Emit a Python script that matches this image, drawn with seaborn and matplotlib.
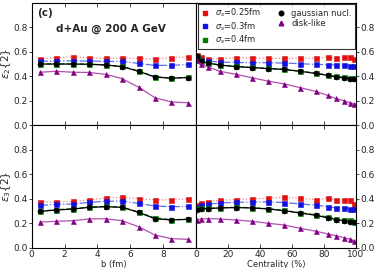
import numpy as np
import seaborn as sns
import matplotlib
matplotlib.use("Agg")
import matplotlib.pyplot as plt
from matplotlib.lines import Line2D

# impact parameter b (fm) and centrality (%) bins
b_vals = [0.5, 1.5, 2.5, 3.5, 4.5, 5.5, 6.5, 7.5, 8.5, 9.5]
cent_vals = [0.5, 3, 7.5, 15, 25, 35, 45, 55, 65, 75, 82.5, 87.5, 92.5, 96.5, 99]

# eps2{2} vs b
e2_b_s025 = [0.542, 0.55, 0.558, 0.55, 0.545, 0.548, 0.545, 0.54, 0.552, 0.558]
e2_b_s03 = [0.523, 0.523, 0.525, 0.523, 0.521, 0.52, 0.504, 0.488, 0.488, 0.496]
e2_b_s04 = [0.50, 0.50, 0.50, 0.498, 0.492, 0.479, 0.442, 0.395, 0.385, 0.39]
e2_b_gaus = [0.499, 0.499, 0.499, 0.497, 0.491, 0.478, 0.44, 0.393, 0.383, 0.389]
e2_b_disk = [0.432, 0.44, 0.432, 0.43, 0.415, 0.38, 0.31, 0.224, 0.189, 0.183]

# eps2{2} vs centrality
e2_c_s025 = [0.57, 0.556, 0.537, 0.542, 0.55, 0.55, 0.545, 0.545, 0.547, 0.547, 0.556, 0.547, 0.553, 0.556, 0.542]
e2_c_s03 = [0.55, 0.529, 0.523, 0.515, 0.512, 0.51, 0.51, 0.507, 0.502, 0.496, 0.494, 0.491, 0.491, 0.486, 0.486]
e2_c_s04 = [0.568, 0.522, 0.508, 0.491, 0.48, 0.472, 0.463, 0.456, 0.441, 0.425, 0.409, 0.398, 0.39, 0.388, 0.386]
e2_c_gaus = [0.565, 0.525, 0.507, 0.49, 0.478, 0.47, 0.462, 0.455, 0.44, 0.422, 0.406, 0.395, 0.386, 0.38, 0.377]
e2_c_disk = [0.53, 0.50, 0.475, 0.44, 0.415, 0.387, 0.36, 0.337, 0.307, 0.275, 0.243, 0.218, 0.2, 0.183, 0.172]

# eps3{2} vs b
e3_b_s025 = [0.375, 0.37, 0.378, 0.39, 0.405, 0.41, 0.40, 0.39, 0.39, 0.40]
e3_b_s03 = [0.345, 0.353, 0.356, 0.37, 0.378, 0.38, 0.361, 0.34, 0.334, 0.337]
e3_b_s04 = [0.298, 0.31, 0.317, 0.331, 0.336, 0.331, 0.29, 0.243, 0.228, 0.232]
e3_b_gaus = [0.296, 0.307, 0.315, 0.329, 0.334, 0.329, 0.288, 0.236, 0.226, 0.231]
e3_b_disk = [0.209, 0.215, 0.22, 0.234, 0.236, 0.22, 0.171, 0.103, 0.073, 0.068]

# eps3{2} vs centrality
e3_c_s025 = [0.35, 0.365, 0.376, 0.387, 0.392, 0.40, 0.403, 0.411, 0.403, 0.392, 0.403, 0.387, 0.387, 0.39, 0.36]
e3_c_s03 = [0.335, 0.349, 0.354, 0.365, 0.37, 0.373, 0.373, 0.368, 0.357, 0.346, 0.335, 0.324, 0.324, 0.319, 0.313]
e3_c_s04 = [0.32, 0.32, 0.321, 0.326, 0.329, 0.326, 0.318, 0.304, 0.285, 0.268, 0.25, 0.233, 0.224, 0.222, 0.212]
e3_c_gaus = [0.308, 0.316, 0.319, 0.324, 0.327, 0.324, 0.316, 0.302, 0.283, 0.264, 0.243, 0.229, 0.221, 0.213, 0.207]
e3_c_disk = [0.224, 0.234, 0.237, 0.234, 0.226, 0.215, 0.199, 0.185, 0.158, 0.134, 0.112, 0.098, 0.082, 0.068, 0.057]

labels = [r"$\sigma_s$=0.25fm", r"$\sigma_s$=0.3fm", r"$\sigma_s$=0.4fm",
          "gaussian nucl.", "disk-like"]
colors = ["#e01010", "#1010e0", "#007a00", "black", "#800080"]
line_colors = ["#f08080", "#6070f0", "#007a00", "black", "#b050b0"]
styles = [":", "-.", "--", "-", "-"]
markers = ["s", "s", "s", "o", "^"]

sns.set_style("ticks")
plt.rcParams["font.family"] = ["DejaVu Sans"]

fig = plt.figure(figsize=(3.74, 2.68), dpi=100)
L, W1, W2 = 0.0848, 0.4393, 0.427
B2, B1, H = 0.0760, 0.5330, 0.457
ax_tl = fig.add_axes([L, B1, W1, H])
ax_tr = fig.add_axes([L + W1, B1, W2, H])
ax_bl = fig.add_axes([L, B2, W1, H])
ax_br = fig.add_axes([L + W1, B2, W2, H])

panels = [
    (ax_tl, b_vals, [e2_b_s025, e2_b_s03, e2_b_s04, e2_b_gaus, e2_b_disk]),
    (ax_tr, cent_vals, [e2_c_s025, e2_c_s03, e2_c_s04, e2_c_gaus, e2_c_disk]),
    (ax_bl, b_vals, [e3_b_s025, e3_b_s03, e3_b_s04, e3_b_gaus, e3_b_disk]),
    (ax_br, cent_vals, [e3_c_s025, e3_c_s03, e3_c_s04, e3_c_gaus, e3_c_disk]),
]

for ax, xs, series in panels:
    for ys, c, lc, ls, m in zip(series, colors, line_colors, styles, markers):
        sns.lineplot(x=xs, y=ys, ax=ax, color=lc, linestyle=ls, linewidth=0.9,
                     marker=m, markersize=3.6, markerfacecolor=c,
                     markeredgecolor=c, markeredgewidth=0.4, legend=False)
    ax.set_ylim(0, 1.0)
    ax.set_yticks([0.0, 0.2, 0.4, 0.6, 0.8])
    ax.set_yticklabels(["0.0", "0.2", "0.4", "0.6", "0.8"])
    for sp in ax.spines.values():
        sp.set_visible(True)
        sp.set_color("black")
        sp.set_linewidth(0.8)
    ax.tick_params(axis="x", direction="in", top=True, length=3, width=0.6,
                   labelsize=6.5, pad=2)
    ax.tick_params(axis="y", direction="out", length=2, width=0.6,
                   labelsize=6.5, pad=1)

for ax in (ax_tl, ax_bl):
    ax.set_xlim(0, 10)
    ax.set_xticks([0, 2, 4, 6, 8])
for ax in (ax_tr, ax_br):
    ax.set_xlim(0, 100)
    ax.set_xticks([0, 20, 40, 60, 80, 100])
    ax.yaxis.tick_right()
    ax.tick_params(axis="y", direction="out", length=2, width=0.6,
                   labelsize=6.5, pad=1)
for ax in (ax_tl, ax_tr):
    ax.tick_params(axis="x", labelbottom=False)

ax_bl.set_xlabel("b (fm)", fontsize=6, labelpad=0.5)
ax_br.set_xlabel("Centrality (%)", fontsize=6, labelpad=0.5)
ax_tl.set_ylabel(r"$\epsilon_2\{2\}$", fontsize=7.5)
ax_bl.set_ylabel(r"$\epsilon_3\{2\}$", fontsize=7.5)
for ax in (ax_tl, ax_bl):
    ax.yaxis.set_label_coords(-0.115, 0.5)

ax_tl.text(0.03, 0.96, "(c)", transform=ax_tl.transAxes, fontsize=7.5,
           fontweight="bold", va="top", ha="left")
ax_tl.text(0.15, 0.83, "d+Au @ 200 A GeV", transform=ax_tl.transAxes,
           fontsize=7.5, fontweight="bold", va="top", ha="left")

handles = [Line2D([], [], linestyle="none", marker=m, color=c, markersize=3.3)
           for c, m in zip(colors, markers)]
leg = ax_tr.legend(handles, labels, ncol=2, loc="upper left",
                   bbox_to_anchor=(0.01, 0.99, 0.985, 0.0), mode="expand",
                   fontsize=6, frameon=True, fancybox=False, numpoints=1,
                   handlelength=1.0, columnspacing=0.6, borderpad=0.35,
                   labelspacing=0.12, handletextpad=0.7, borderaxespad=0.0)
leg.get_frame().set_edgecolor("black")
leg.get_frame().set_linewidth(0.8)

fig.savefig("out.png", dpi=100)
